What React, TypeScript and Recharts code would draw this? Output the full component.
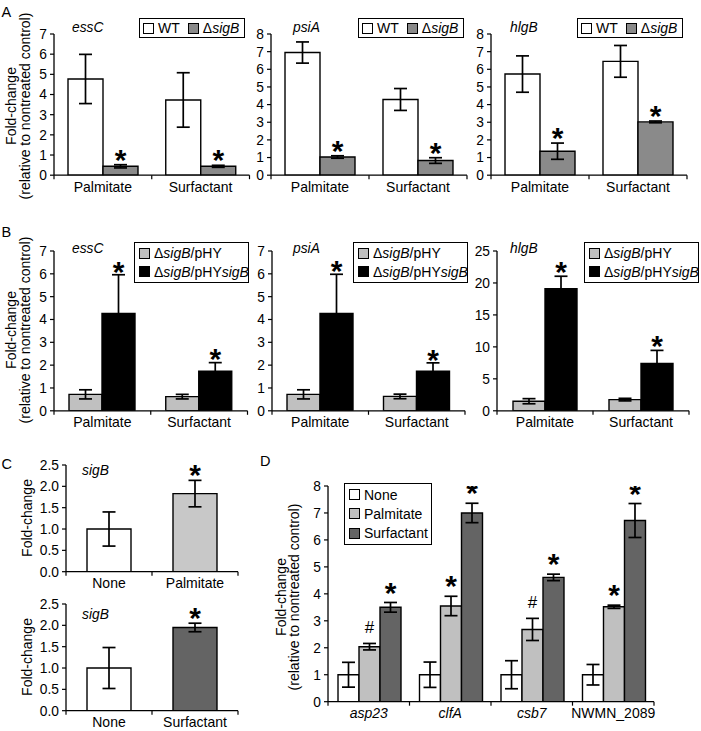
import React from 'react';
import { BarChart, Bar, XAxis, YAxis, ErrorBar, Legend, Rectangle, Cell } from 'recharts';

const FONT = '"Liberation Sans", Arial, Helvetica, sans-serif';

// ---------- categories ----------
const treatmentsAB = ['Palmitate', 'Surfactant'];
const conditionsC1 = ['None', 'Palmitate'];
const conditionsC2 = ['None', 'Surfactant'];
const genesD = ['asp23', 'clfA', 'csb7', 'NWMN_2089'];
const italicGenesD = ['asp23', 'clfA', 'csb7'];

// ---------- Panel A (WT vs ΔsigB) ----------
const aEssCWT = [4.77, 3.73];
const aEssCWTErr = [1.22, 1.35];
const aEssCSigB = [0.44, 0.44];
const aEssCSigBErr = [0.08, 0.05];
const aPsiAWT = [6.95, 4.29];
const aPsiAWTErr = [0.6, 0.62];
const aPsiASigB = [1.03, 0.83];
const aPsiASigBErr = [0.07, 0.16];
const aHlgBWT = [5.73, 6.45];
const aHlgBWTErr = [1.03, 0.9];
const aHlgBSigB = [1.36, 3.02];
const aHlgBSigBErr = [0.46, 0.05];
const aMarks = ['*', '*'];

// ---------- Panel B (ΔsigB/pHY vs ΔsigB/pHYsigB) ----------
const bEssCVec = [0.72, 0.62];
const bEssCVecErr = [0.2, 0.1];
const bEssCComp = [4.26, 1.74];
const bEssCCompErr = [1.7, 0.37];
const bPsiAVec = [0.72, 0.63];
const bPsiAVecErr = [0.2, 0.1];
const bPsiAComp = [4.26, 1.73];
const bPsiACompErr = [1.72, 0.37];
const bHlgBVec = [1.5, 1.75];
const bHlgBVecErr = [0.4, 0.2];
const bHlgBComp = [19.1, 7.4];
const bHlgBCompErr = [1.95, 2.05];
const bMarks = ['*', '*'];

// ---------- Panel C (sigB) ----------
const cPalValues = [1.0, 1.83];
const cPalErr = [0.4, 0.31];
const cPalMarks = ['', '*'];
const cSurfValues = [1.0, 1.95];
const cSurfErr = [0.48, 0.1];
const cSurfMarks = ['', '*'];

// ---------- Panel D ----------
const dNone = [1.0, 1.0, 1.0, 1.0];
const dNoneErr = [0.46, 0.47, 0.52, 0.38];
const dPal = [2.04, 3.55, 2.68, 3.52];
const dPalErr = [0.12, 0.36, 0.41, 0.06];
const dPalMarks = ['#', '*', '#', '*'];
const dSurf = [3.5, 7.0, 4.61, 6.72];
const dSurfErr = [0.18, 0.36, 0.12, 0.63];
const dSurfMarks = ['*', '*', '*', '*'];

// ---------- tick values ----------
const ticks0to7 = [0, 1, 2, 3, 4, 5, 6, 7];
const ticks0to8 = [0, 1, 2, 3, 4, 5, 6, 7, 8];
const ticks0to25 = [0, 5, 10, 15, 20, 25];
const ticksC = [0, 0.5, 1.0, 1.5, 2.0, 2.5];

function makeRows(cats: string[], cols: Record<string, (number | string)[]>) {
  return cats.map((c, i) => {
    const o: any = { cat: c };
    for (const k in cols) o[k] = cols[k][i];
    return o;
  });
}

const aEssCData = makeRows(treatmentsAB, { wt: aEssCWT, wtErr: aEssCWTErr, sig: aEssCSigB, sigErr: aEssCSigBErr, sigMark: aMarks });
const aPsiAData = makeRows(treatmentsAB, { wt: aPsiAWT, wtErr: aPsiAWTErr, sig: aPsiASigB, sigErr: aPsiASigBErr, sigMark: aMarks });
const aHlgBData = makeRows(treatmentsAB, { wt: aHlgBWT, wtErr: aHlgBWTErr, sig: aHlgBSigB, sigErr: aHlgBSigBErr, sigMark: aMarks });
const bEssCData = makeRows(treatmentsAB, { vec: bEssCVec, vecErr: bEssCVecErr, comp: bEssCComp, compErr: bEssCCompErr, compMark: bMarks });
const bPsiAData = makeRows(treatmentsAB, { vec: bPsiAVec, vecErr: bPsiAVecErr, comp: bPsiAComp, compErr: bPsiACompErr, compMark: bMarks });
const bHlgBData = makeRows(treatmentsAB, { vec: bHlgBVec, vecErr: bHlgBVecErr, comp: bHlgBComp, compErr: bHlgBCompErr, compMark: bMarks });
const cPalData = makeRows(conditionsC1, { v: cPalValues, e: cPalErr, m: cPalMarks });
const cSurfData = makeRows(conditionsC2, { v: cSurfValues, e: cSurfErr, m: cSurfMarks });
const dData = makeRows(genesD, { none: dNone, noneErr: dNoneErr, pal: dPal, palErr: dPalErr, palMark: dPalMarks, surf: dSurf, surfErr: dSurfErr, surfMark: dSurfMarks });

// ---------- styles ----------
const A_GREY = '#8a8a8a';
const LIGHT = '#c0c0c0';
const DARK = '#646464';

const seriesA = [
  { key: 'wt', err: 'wtErr', name: 'WT', fill: '#ffffff' },
  { key: 'sig', err: 'sigErr', mark: 'sigMark', name: 'ΔsigB', fill: A_GREY },
];
const seriesB = [
  { key: 'vec', err: 'vecErr', name: 'ΔsigB/pHY', fill: LIGHT },
  { key: 'comp', err: 'compErr', mark: 'compMark', name: 'ΔsigB/pHYsigB', fill: '#000000' },
];
const seriesCPal = [{ key: 'v', err: 'e', mark: 'm', name: 'sigB', fill: '#fff', cellFills: ['#ffffff', '#c8c8c8'] }];
const seriesCSurf = [{ key: 'v', err: 'e', mark: 'm', name: 'sigB', fill: '#fff', cellFills: ['#ffffff', DARK] }];
const seriesD = [
  { key: 'none', err: 'noneErr', name: 'None', fill: '#ffffff' },
  { key: 'pal', err: 'palErr', mark: 'palMark', name: 'Palmitate', fill: LIGHT },
  { key: 'surf', err: 'surfErr', mark: 'surfMark', name: 'Surfactant', fill: DARK },
];

type SeriesSpec = { key: string; err: string; mark?: string; name: string; fill: string; cellFills?: string[] };
type LegendSpec = { left: number; top: number; width: number; height: number; column: boolean };
type SubProps = {
  x0: number; x1: number; y0: number; y1: number;
  data: any[]; series: SeriesSpec[]; yMax: number; yTicks: number[]; yDigits?: number;
  catGap: number; markGap: number; italicCats?: string[]; legend?: LegendSpec;
};

const LM = 45, TM = 30, RM = 12, BM = 24;
const TICK_FS = 13.8;
const CAT_FS = 14;
const STAR_FS = 30;
const HASH_FS = 17;

const richLabel = (s: string) =>
  String(s).split(/(sigB)/).map((part, i) =>
    part === 'sigB' ? <i key={i}>{part}</i> : <span key={i}>{part}</span>
  );

function renderLegend(lp: any, column: boolean) {
  const items = lp.payload || [];
  return (
    <div
      style={{
        border: '1.5px solid #000', background: '#fff', boxSizing: 'border-box', width: '100%', height: '100%',
        display: 'flex', flexDirection: column ? 'column' : 'row', justifyContent: column ? 'space-around' : 'flex-start',
        alignItems: column ? 'flex-start' : 'center', padding: column ? '1px 4px' : '0 3px',
        fontFamily: FONT, fontSize: 14, color: '#000', lineHeight: '16px',
      }}
    >
      {items.map((it: any, i: number) => (
        <div key={i} style={{ display: 'flex', alignItems: 'center', marginRight: column ? 0 : 8 }}>
          <span style={{ display: 'inline-block', width: 11, height: 11, border: '1.5px solid #000', background: it.color, boxSizing: 'border-box', marginRight: 4 }} />
          <span>{richLabel(it.value)}</span>
        </div>
      ))}
    </div>
  );
}

function renderBar(bp: any, s: SeriesSpec, gap: number) {
  const { x, y, width, height } = bp;
  const row = bp.payload ?? bp;
  const mark = s.mark ? row[s.mark] : '';
  let markEl: any = null;
  if (mark && height > 0) {
    const v = row[s.key];
    const e = row[s.err] || 0;
    const errTop = y - (e * height) / v;
    const cx = x + width / 2;
    if (mark === '#') {
      markEl = <text x={cx} y={errTop - gap + 0.35 * HASH_FS} textAnchor="middle" fontSize={HASH_FS} fontFamily={FONT} fill="#000">#</text>;
    } else {
      markEl = <text x={cx} y={errTop - gap + 0.56 * STAR_FS} textAnchor="middle" fontSize={STAR_FS} fontWeight="bold" fontFamily={FONT} fill="#000">*</text>;
    }
  }
  return (
    <g>
      <Rectangle x={x} y={y} width={width} height={height} fill={bp.fill} stroke="#000" strokeWidth={1.4} />
      {markEl}
    </g>
  );
}

function SubChart(p: SubProps) {
  const L = p.x0 - LM, T = p.y0 - TM;
  const W = p.x1 - p.x0 + LM + RM, H = p.y1 - p.y0 + TM + BM;
  const n = p.data.length;
  const band = (p.x1 - p.x0) / n;
  const lastCat = p.data[n - 1].cat;
  const tick = (tp: any) => {
    const { x, y, payload } = tp;
    const label = payload.value;
    const it = p.italicCats ? p.italicCats.includes(label) : false;
    return (
      <g>
        <line x1={x - band / 2} x2={x - band / 2} y1={y} y2={y + 4} stroke="#000" strokeWidth={1.2} />
        {label === lastCat && <line x1={x + band / 2} x2={x + band / 2} y1={y} y2={y + 4} stroke="#000" strokeWidth={1.2} />}
        <text x={x} y={y + 16.5} textAnchor="middle" fontSize={CAT_FS} fontStyle={it ? 'italic' : 'normal'} fill="#000" fontFamily={FONT}>{label}</text>
      </g>
    );
  };
  const lg = p.legend;
  return (
    <div style={{ position: 'absolute', left: L, top: T }}>
      <BarChart width={W} height={H} data={p.data} margin={{ top: TM, right: RM, left: 0, bottom: 0 }} barGap={0} barCategoryGap={p.catGap}>
        <XAxis dataKey="cat" height={BM} tickSize={0} tickMargin={0} tickLine={false} axisLine={{ stroke: '#000', strokeWidth: 1.3 }} tick={tick} interval={0} />
        <YAxis
          type="number" domain={[0, p.yMax]} ticks={p.yTicks} interval={0} width={LM} tickSize={4} tickMargin={3}
          axisLine={{ stroke: '#000', strokeWidth: 1.3 }} tickLine={{ stroke: '#000', strokeWidth: 1.2 }}
          tick={{ fontSize: TICK_FS, fill: '#000', fontFamily: FONT }} allowDataOverflow
          tickFormatter={(v: number) => (p.yDigits ? v.toFixed(p.yDigits) : String(v))}
        />
        {lg && (
          <Legend
            layout="vertical" align="center" verticalAlign="middle"
            wrapperStyle={{ left: lg.left - L, top: lg.top - T, width: lg.width, height: lg.height, margin: 0, padding: 0 }}
            content={(lp: any) => renderLegend(lp, lg.column)}
          />
        )}
        {p.series.map((s) => (
          <Bar key={s.key} dataKey={s.key} name={s.name} fill={s.fill} stroke="#000" strokeWidth={1.4} isAnimationActive={false}
            shape={(bp: any) => renderBar(bp, s, p.markGap)}>
            {s.cellFills && s.cellFills.map((f, i) => <Cell key={i} fill={f} />)}
            <ErrorBar dataKey={s.err} width={6.5} stroke="#000" strokeWidth={1.7} direction="y" />
          </Bar>
        ))}
      </BarChart>
    </div>
  );
}

const txt = { fontFamily: FONT, fill: '#000' } as const;

function YLabel({ x, y, text, size = 14 }: { x: number; y: number; text: string; size?: number }) {
  return (
    <text transform={`translate(${x},${y}) rotate(-90)`} textAnchor="middle" fontSize={size} {...txt}>{text}</text>
  );
}

export default function App() {
  const legA = (left: number) => ({ left, top: 18.5, width: 106, height: 19.5, column: false });
  const legB = (left: number) => ({ left, top: 242, width: 115, height: 41, column: true });
  return (
    <div style={{ position: 'absolute', left: 0, top: 0, width: 701, height: 731, overflow: 'hidden', background: '#fff', fontFamily: FONT }}>
      {/* Panel A */}
      <SubChart x0={53.5} x1={249} y0={34.3} y1={175.5} data={aEssCData} series={seriesA} yMax={7} yTicks={ticks0to7} catGap={14} markGap={12} legend={legA(139)} />
      <SubChart x0={271} x1={467} y0={34.3} y1={175.5} data={aPsiAData} series={seriesA} yMax={8} yTicks={ticks0to8} catGap={14} markGap={12} legend={legA(358)} />
      <SubChart x0={491} x1={687} y0={34.3} y1={175.5} data={aHlgBData} series={seriesA} yMax={8} yTicks={ticks0to8} catGap={14} markGap={12} legend={legA(577)} />
      {/* Panel B */}
      <SubChart x0={54} x1={247.5} y0={251.2} y1={411} data={bEssCData} series={seriesB} yMax={7} yTicks={ticks0to7} catGap={15} markGap={10} legend={legB(134)} />
      <SubChart x0={272} x1={465} y0={251.2} y1={411} data={bPsiAData} series={seriesB} yMax={7} yTicks={ticks0to7} catGap={15} markGap={10} legend={legB(353)} />
      <SubChart x0={497} x1={689} y0={251.2} y1={411} data={bHlgBData} series={seriesB} yMax={25} yTicks={ticks0to25} catGap={16} markGap={11} legend={legB(584)} />
      {/* Panel C */}
      <SubChart x0={65.5} x1={237.5} y0={465} y1={571.7} data={cPalData} series={seriesCPal} yMax={2.5} yTicks={ticksC} yDigits={1} catGap={21} markGap={12.5} />
      <SubChart x0={65.5} x1={237.5} y0={604} y1={710.7} data={cSurfData} series={seriesCSurf} yMax={2.5} yTicks={ticksC} yDigits={1} catGap={21} markGap={12.5} />
      {/* Panel D */}
      <SubChart x0={328} x1={654} y0={486} y1={701.7} data={dData} series={seriesD} yMax={8} yTicks={ticks0to8} catGap={10} markGap={16.7} italicCats={italicGenesD}
        legend={{ left: 344, top: 483, width: 88, height: 62, column: true }} />

      <svg width={701} height={731} style={{ position: 'absolute', left: 0, top: 0, pointerEvents: 'none' }}>
        <text x={1.5} y={16.7} fontSize={14.5} {...txt}>A</text>
        <text x={1.5} y={237.3} fontSize={14.5} {...txt}>B</text>
        <text x={1.5} y={469} fontSize={14.5} {...txt}>C</text>
        <text x={260} y={466} fontSize={14.5} {...txt}>D</text>

        <text x={72} y={32} fontSize={13.8} fontStyle="italic" {...txt}>essC</text>
        <text x={293} y={32} fontSize={13.8} fontStyle="italic" {...txt}>psiA</text>
        <text x={510} y={32} fontSize={13.8} fontStyle="italic" {...txt}>hlgB</text>
        <text x={72} y={252.5} fontSize={13.8} fontStyle="italic" {...txt}>essC</text>
        <text x={293} y={252.5} fontSize={13.8} fontStyle="italic" {...txt}>psiA</text>
        <text x={510} y={252.5} fontSize={13.8} fontStyle="italic" {...txt}>hlgB</text>
        <text x={82} y={474.5} fontSize={13.8} fontStyle="italic" {...txt}>sigB</text>
        <text x={82} y={618.5} fontSize={13.8} fontStyle="italic" {...txt}>sigB</text>

        <YLabel x={16} y={106} text="Fold-change" />
        <YLabel x={29.5} y={106} text="(relative to nontreated control)" />
        <YLabel x={16} y={330} text="Fold-change" />
        <YLabel x={29.5} y={330} text="(relative to nontreated control)" />
        <YLabel x={32} y={518} text="Fold-change" />
        <YLabel x={32} y={657} text="Fold-change" />
        <YLabel x={285.5} y={597} text="Fold-change" />
        <YLabel x={298.5} y={597} text="(relative to nontreated control)" />
      </svg>
    </div>
  );
}
